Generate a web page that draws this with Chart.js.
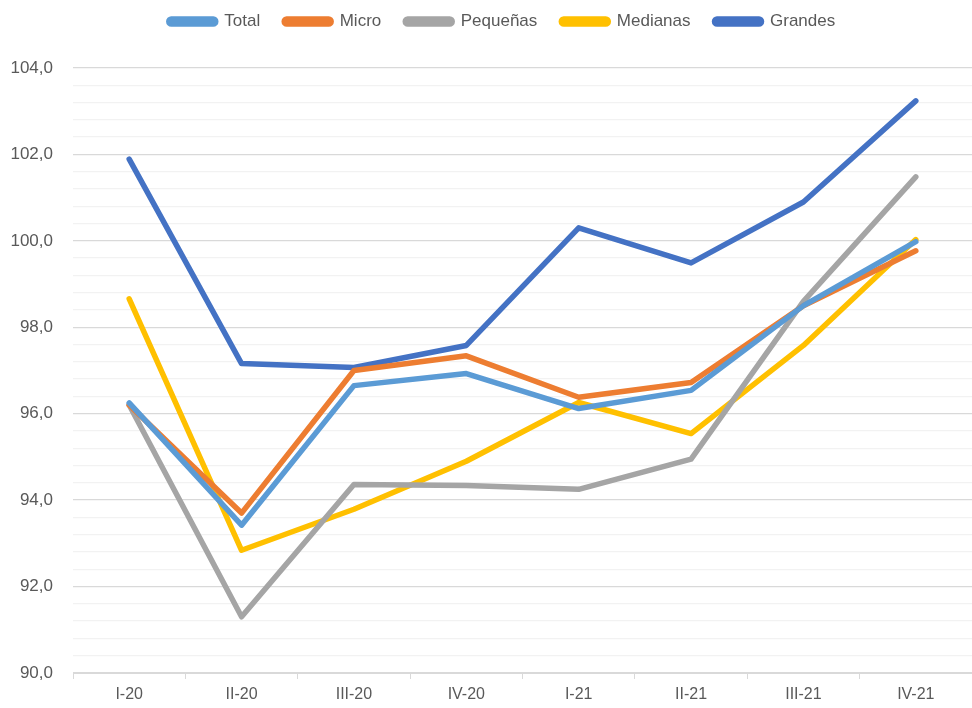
<!DOCTYPE html>
<html>
<head>
<meta charset="utf-8">
<script src="https://cdn.jsdelivr.net/npm/chart.js@4/dist/chart.umd.min.js"></script>
<style>
  html, body { margin: 0; padding: 0; background: #fff; }
  #wrap { width: 972px; height: 708px; }
</style>
</head>
<body>
<div id="wrap"><canvas id="myChart"></canvas></div>
<script>
// Trimestres
var labels = ["I-20", "II-20", "III-20", "IV-20", "I-21", "II-21", "III-21", "IV-21"];

// Series
var total    = [96.25, 93.42, 96.65, 96.93, 96.12, 96.54, 98.50, 99.98];
var micro    = [96.20, 93.70, 97.00, 97.34, 96.38, 96.72, 98.50, 99.77];
var pequenas = [96.20, 91.30, 94.36, 94.34, 94.25, 94.95, 98.60, 101.48];
var medianas = [98.66, 92.84, 93.79, 94.90, 96.26, 95.54, 97.58, 100.03];
var grandes  = [101.89, 97.16, 97.07, 97.58, 100.30, 99.49, 100.90, 103.24];

var yMin = 90, yMax = 104, yStep = 0.4;

function serie(label, data, color) {
  return {
    label: label,
    data: data,
    borderColor: color,
    backgroundColor: color,
    borderWidth: 5.5,
    pointRadius: 0,
    tension: 0,
    borderCapStyle: 'round',
    borderJoinStyle: 'round'
  };
}

var dados = {
  labels: labels,
  datasets: [
    serie("Total", total, "#5b9bd5"),
    serie("Micro", micro, "#ed7d31"),
    serie("Pequeñas", pequenas, "#a5a5a5"),
    serie("Medianas", medianas, "#ffc000"),
    serie("Grandes", grandes, "#4472c4")
  ]
};

function esMayor(v) {
  return Math.abs(v / 2 - Math.round(v / 2)) < 1e-6;
}

// altura fija de la leyenda y pequeño corrimiento a la derecha
var ajusteLeyenda = {
  id: 'ajusteLeyenda',
  beforeInit: function (chart) {
    var orig = chart.legend.fit;
    chart.legend.fit = function () {
      orig.call(this);
      this.height = 79;
    };
  },
  afterLayout: function (chart) {
    chart.legend.left += 16;
    chart.legend.right += 16;
  }
};

var ctx = document.getElementById("myChart");
var chart = new Chart(ctx, {
  type: 'line',
  data: dados,
  plugins: [ajusteLeyenda],
  options: {
    responsive: true,
    maintainAspectRatio: false,
    animation: false,
    layout: { padding: { left: 0, right: 0, top: -11, bottom: 0 } },
    plugins: {
      legend: {
        position: 'top',
        labels: {
          color: '#595959',
          font: { family: 'Liberation Sans, sans-serif', size: 17 },
          boxWidth: 47,
          boxHeight: 5,
          useBorderRadius: true,
          borderRadius: 2.5,
          padding: 24
        }
      },
      tooltip: { enabled: false }
    },
    scales: {
      x: {
        offset: true,
        afterFit: function (axis) { axis.height = 35; },
        border: { color: '#d9d9d9' },
        grid: {
          offset: true,
          drawOnChartArea: false,
          drawTicks: true,
          tickLength: 6,
          color: '#d9d9d9'
        },
        ticks: {
          color: '#595959',
          padding: 6,
          font: { family: 'Liberation Sans, sans-serif', size: 16 }
        }
      },
      y: {
        min: yMin,
        max: yMax,
        afterFit: function (axis) { axis.width = 73; },
        afterBuildTicks: function (axis) {
          var t = [];
          for (var i = 0; i <= Math.round((yMax - yMin) / yStep); i++) {
            t.push({ value: +(yMin + i * yStep).toFixed(1) });
          }
          axis.ticks = t;
        },
        border: { display: false },
        grid: {
          drawTicks: false,
          color: function (c) {
            return c.tick && esMayor(c.tick.value) ? '#d9d9d9' : '#f2f2f2';
          },
          lineWidth: 1.3
        },
        ticks: {
          autoSkip: false,
          color: '#595959',
          padding: 20,
          font: { family: 'Liberation Sans, sans-serif', size: 17 },
          callback: function (v) {
            return esMayor(v) ? v.toFixed(1).replace('.', ',') : '';
          }
        }
      }
    }
  }
});
</script>
</body>
</html>
